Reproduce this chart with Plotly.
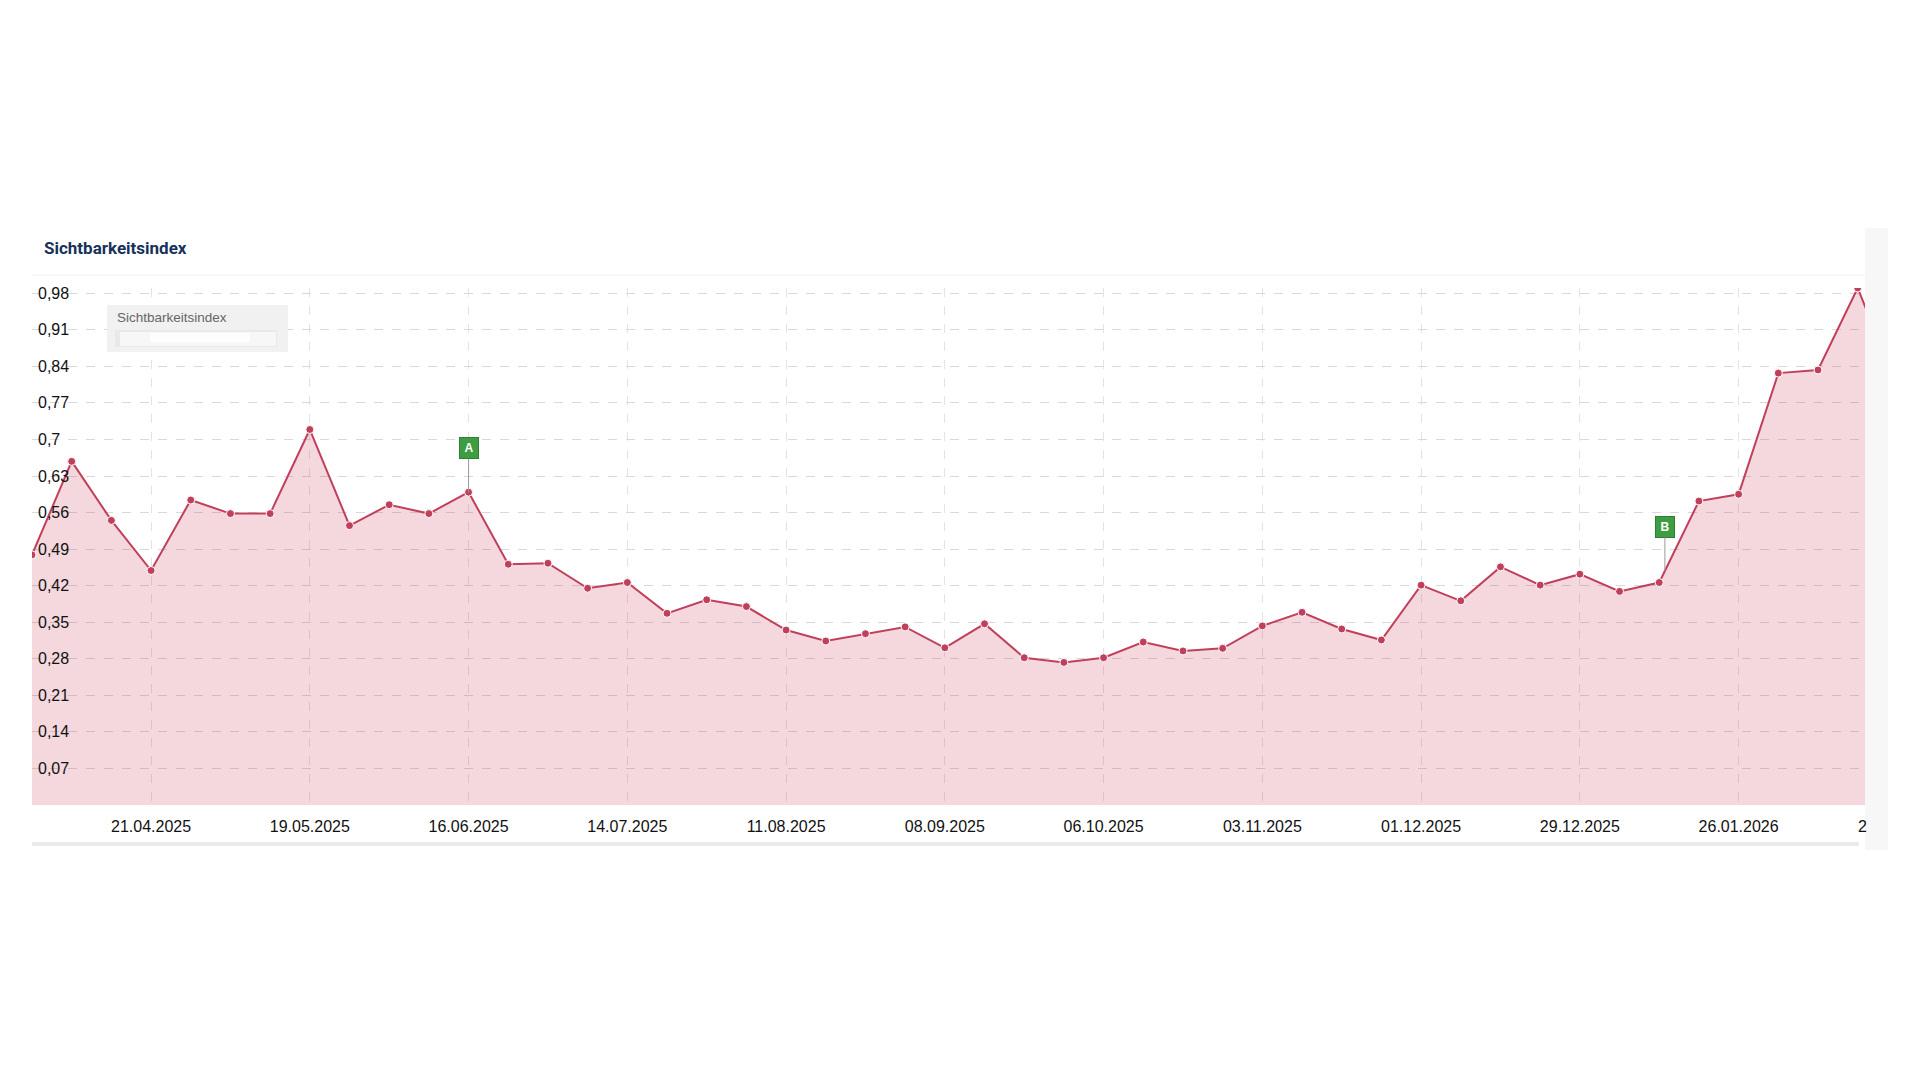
import plotly.graph_objects as go

# Sichtbarkeitsindex, weekly values
dates = [
    "2025-03-31", "2025-04-07", "2025-04-14", "2025-04-21", "2025-04-28",
    "2025-05-05", "2025-05-12", "2025-05-19", "2025-05-26", "2025-06-02",
    "2025-06-09", "2025-06-16", "2025-06-23", "2025-06-30", "2025-07-07",
    "2025-07-14", "2025-07-21", "2025-07-28", "2025-08-04", "2025-08-11",
    "2025-08-18", "2025-08-25", "2025-09-01", "2025-09-08", "2025-09-15",
    "2025-09-22", "2025-09-29", "2025-10-06", "2025-10-13", "2025-10-20",
    "2025-10-27", "2025-11-03", "2025-11-10", "2025-11-17", "2025-11-24",
    "2025-12-01", "2025-12-08", "2025-12-15", "2025-12-22", "2025-12-29",
    "2026-01-05", "2026-01-12", "2026-01-19", "2026-01-26", "2026-02-02",
    "2026-02-09", "2026-02-16", "2026-02-23",
]
values = [
    0.479, 0.658, 0.545, 0.449, 0.584,
    0.558, 0.558, 0.719, 0.535, 0.575,
    0.558, 0.599, 0.461, 0.463, 0.415,
    0.426, 0.367, 0.393, 0.380, 0.335,
    0.314, 0.328, 0.341, 0.301, 0.347,
    0.282, 0.273, 0.282, 0.312, 0.295,
    0.300, 0.343, 0.369, 0.337, 0.316,
    0.421, 0.391, 0.456, 0.421, 0.442,
    0.409, 0.426, 0.582, 0.595, 0.827,
    0.833, 0.990, 0.800,
]

# event flags (sit on the series line)
flag_labels = ["A", "B"]
flag_dates = ["2025-06-16", "2026-01-13"]
flag_values = [0.599, 0.448]

# axis ticks
y_ticks = [0.07, 0.14, 0.21, 0.28, 0.35, 0.42, 0.49, 0.56, 0.63, 0.70, 0.77, 0.84, 0.91, 0.98]
y_labels = ["0,07", "0,14", "0,21", "0,28", "0,35", "0,42", "0,49", "0,56", "0,63", "0,7",
            "0,77", "0,84", "0,91", "0,98"]
x_ticks = ["2025-04-21", "2025-05-19", "2025-06-16", "2025-07-14", "2025-08-11", "2025-09-08",
           "2025-10-06", "2025-11-03", "2025-12-01", "2025-12-29", "2026-01-26"]
x_labels = ["21.04.2025", "19.05.2025", "16.06.2025", "14.07.2025", "11.08.2025", "08.09.2025",
            "06.10.2025", "03.11.2025", "01.12.2025", "29.12.2025", "26.01.2026"]
# next tick label (23.02.2026) is cut off by the card edge, only its first digit shows
cut_label = "2"

line_colour = "#c0405b"
tick_font = dict(family="Liberation Sans, Arial, sans-serif", size=16, color="#111111")

# the page has an 8px body margin, so the figure is a bit smaller than the window
OFF = 8
W, H = 1904, 1064
left, top, bottom = 24, 280, 797      # figure pixels
right = 1857                          # = card edge
card_right = 1865                     # page pixels


def px_x(p):
    # page pixel -> paper x
    return (p - OFF - left) / (right - left)


def px_y(p):
    # page pixel -> paper y
    return (bottom - (p - OFF)) / (bottom - top)


def paper_rect(x0, y0, x1, y1, colour, layer="above"):
    return dict(type="rect", xref="paper", yref="paper",
                x0=px_x(x0), x1=px_x(x1), y0=px_y(y1), y1=px_y(y0),
                fillcolor=colour, line_width=0, layer=layer)


fig = go.Figure()

fig.add_trace(go.Scatter(
    x=dates,
    y=values,
    mode="lines+markers",
    line=dict(color=line_colour, width=2),
    marker=dict(color=line_colour, size=8, line=dict(color="white", width=1)),
    fill="tozeroy",
    fillcolor="rgba(201, 60, 90, 0.2)",
    showlegend=False,
    hoverinfo="skip",
))

# flags A / B
for label, d, v in zip(flag_labels, flag_dates, flag_values):
    fig.add_annotation(
        x=d, y=v, text=f"<b>{label}</b>",
        showarrow=True, arrowhead=0, arrowwidth=1, arrowcolor="#9a9a9a",
        ax=0, ay=-44,
        bgcolor="#3e9c42", bordercolor="#2f7f33", borderwidth=1, borderpad=2,
        width=14, height=16,
        font=dict(family="Liberation Sans, Arial, sans-serif", size=12, color="white"),
    )

shapes = [
    # separator under the title
    dict(type="line", xref="paper", yref="paper", x0=px_x(32), x1=px_x(card_right),
         y0=px_y(275), y1=px_y(275), line=dict(color="#efefef", width=1), layer="below"),
    # card bottom shadow
    paper_rect(32, 842, card_right - 6, 846, "#ebebeb", "below"),
    # right hand gray strip
    paper_rect(card_right, 228, 1888, 850, "#f7f7f7"),
    # legend box with blurred content
    paper_rect(107, 305, 288, 352, "#f1f1f1"),
    paper_rect(115, 330, 277, 347, "#e9e9e9"),
    paper_rect(120, 332, 276, 346, "#f7f7f7"),
    paper_rect(150, 333, 250, 342, "#fdfdfd"),
]

fig.update_layout(
    width=W, height=H,
    margin=dict(l=left, r=W - right, t=top, b=H - bottom),
    paper_bgcolor="white",
    plot_bgcolor="white",
    shapes=shapes,
    xaxis=dict(
        type="date",
        range=["2025-03-31", "2026-02-17 07:00"],
        tickvals=x_ticks, ticktext=x_labels,
        tickfont=tick_font,
        ticks="", ticklabelstandoff=10,
        showgrid=True, gridcolor="#e3e3e3", griddash="dash", gridwidth=1,
        showline=False, zeroline=False,
    ),
    yaxis=dict(
        range=[0, 0.99],
        tickvals=y_ticks, ticktext=y_labels,
        tickfont=tick_font,
        ticks="", ticklabelposition="inside", ticklabelstandoff=3,
        ticklabeloverflow="allow",
        showgrid=True, gridcolor="#d9d9d9", griddash="dash", gridwidth=1,
        showline=False, zeroline=False,
    ),
)

# clipped tick label at the right edge
fig.add_annotation(
    xref="paper", yref="paper", x=px_x(1857), y=px_y(826),
    xanchor="left", yanchor="middle", showarrow=False, borderpad=0,
    text=cut_label, font=tick_font,
)

# chart title
fig.add_annotation(
    xref="paper", yref="paper", x=px_x(42), y=px_y(248),
    xanchor="left", yanchor="middle", showarrow=False,
    text="<b>Sichtbarkeitsindex</b>",
    font=dict(family="Roboto, sans-serif", size=17, color="#17325a"),
)

# legend label
fig.add_annotation(
    xref="paper", yref="paper", x=px_x(115), y=px_y(317),
    xanchor="left", yanchor="middle", showarrow=False,
    text="Sichtbarkeitsindex",
    font=dict(family="Liberation Sans, Arial, sans-serif", size=13.5, color="#666666"),
)

fig.write_html("out.html")
